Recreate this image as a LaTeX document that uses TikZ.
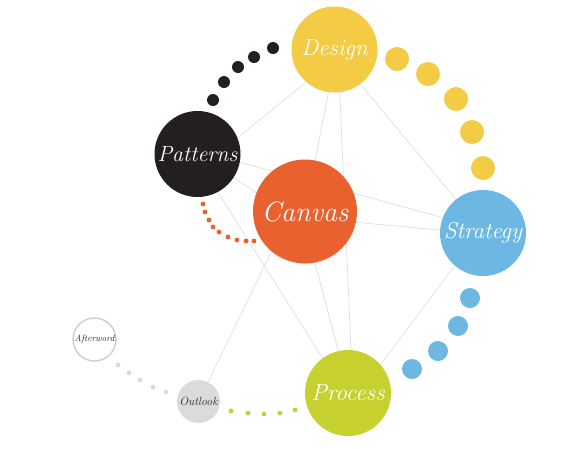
\documentclass[tikz,border=0pt]{standalone}
\usetikzlibrary{backgrounds}
\definecolor{designcol}{HTML}{F4CB45}
\definecolor{patterncol}{HTML}{231F20}
\definecolor{canvascol}{HTML}{E8612F}
\definecolor{strategycol}{HTML}{6DB8E2}
\definecolor{processcol}{HTML}{C6D12F}
\definecolor{outlookcol}{HTML}{DCDBDA}
\definecolor{linkcol}{HTML}{DEDEDE}
\definecolor{smalltext}{HTML}{2E2B2C}
\begin{document}
\begin{tikzpicture}[
        x = 1pt, y = -1pt,
        hub/.style = {circle, inner sep=0pt, minimum size=86pt, text=white,
          font=\itshape\fontsize{23}{23}\selectfont},
        link/.style = {draw=linkcol, line width=0.7pt}]
      \useasboundingbox (0, 0) rectangle (561, 448);
      \node [hub, fill=designcol] (design) at (334.5, 49.5) {Design};
      \node [hub, fill=patterncol, font=\itshape\fontsize{22}{22}\selectfont] (patterns) at (197.5, 154) {Patterns};
      \node [hub, fill=canvascol, minimum size=104pt,
        font=\itshape\fontsize{28}{28}\selectfont] (canvas) at (305, 211.5) {Canvas};
      \node [hub, fill=strategycol] (strategy) at (483, 233) {Strategy};
      \node [hub, fill=processcol, font=\itshape\fontsize{23.5}{23.5}\selectfont] (process) at (348, 393) {Process};
      \node [hub, fill=outlookcol, minimum size=43pt, text=smalltext,
        font=\itshape\fontsize{11.8}{11.8}\selectfont] (outlook) at (198.5, 401.5) {Outlook};
      \node [hub, fill=white, draw=outlookcol!85!gray, line width=1.4pt, minimum size=43pt,
        text=smalltext, font=\itshape\fontsize{9}{9}\selectfont] (afterword) at (94.5, 339.5) {Afterword};
      \begin{scope}[on background layer]
        \draw [link] (design.229) -- (patterns.22);
        \draw [link] (design.262) -- (canvas.79);
        \draw [link] (design.277) -- (process.86);
        \draw [link] (design.307) -- (strategy.129);
        \draw [link] (patterns.349) -- (strategy.159);
        \draw [link] (patterns.327) -- (canvas.159);
        \draw [link] (patterns.298) -- (process.126);
        \draw [link] (canvas.348) -- (strategy.176);
        \draw [link] (canvas.281) -- (process.103);
        \draw [link] (canvas.230) -- (outlook.64);
        \draw [link] (strategy.229) -- (process.41);
      \end{scope}
      % dotted trails between the circles
      \foreach \x/\y in {213/100, 224/82, 238/67, 254/57, 273/48}
        \fill [patterncol] (\x, \y) circle (6pt);
      \foreach \x/\y in {397/59, 428/74, 456/99, 472/132, 483/168}
        \fill [designcol] (\x, \y) circle (12pt);
      \foreach \x/\y in {470/298, 458/326, 438/351, 412/369}
        \fill [strategycol] (\x, \y) circle (10pt);
      \foreach \x/\y in {203/204, 205/212, 209/220, 213/227, 219/232, 228/237, 237/240, 246/241, 254/241}
        \fill [canvascol] (\x, \y) circle (2.4pt);
      \foreach \x/\y in {231/411, 248/413, 264/414, 280/413, 295/410}
        \fill [processcol] (\x, \y) circle (2.4pt);
      \foreach \x/\y in {118/365, 129/373, 140/380, 153/387, 166/392}
        \fill [outlookcol] (\x, \y) circle (2.4pt);
    \end{tikzpicture}
\end{document}
